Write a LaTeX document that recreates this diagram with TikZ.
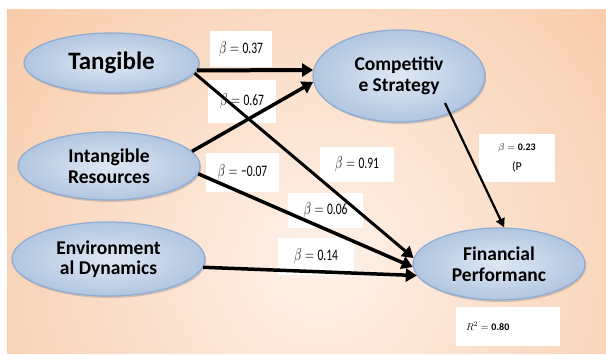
\documentclass[tikz,border=0pt]{standalone}
\usepackage{fontspec}
\setmainfont{Carlito}
\usepackage{graphicx}
\usetikzlibrary{arrows.meta,shadows,shapes.geometric}
\definecolor{bglight}{HTML}{FEF2EA}
\definecolor{bgdark}{HTML}{F3AE78}
\definecolor{ovalin}{HTML}{DEE8F4}
\definecolor{ovalout}{HTML}{B2C6E0}
\definecolor{ovalline}{HTML}{8EABD4}
\newcommand{\coef}[1]{\scalebox{0.72}[1]{$\beta = \mbox{#1}$}}

\begin{document}
\begin{tikzpicture}[x=1pt,y=-1pt,
    oval/.style={ellipse,draw=ovalline,line width=1.2pt,inner color=ovalin,outer color=ovalout,
        inner sep=0pt,align=center,font=\fontsize{19.5}{20.5}\selectfont\bfseries,
        drop shadow={shadow xshift=1.2pt,shadow yshift=-2pt,opacity=.35}},
    coefbox/.style={fill=white,inner sep=0pt,align=center,font=\fontsize{16}{18}\selectfont},
    link/.style={line width=3.5pt,-{Triangle[length=11pt,width=13pt]}}]
    \useasboundingbox (0,0) rectangle (606,355);

    %draw the background
    \begin{scope}
        \clip (7,10) rectangle (606,354);
        \shade[inner color=bglight,outer color=bgdark] (320,260) circle (700pt);
    \end{scope}

    %draw the constructs
    \node[oval,minimum width=175pt,minimum height=60pt,font=\fontsize{25}{27}\selectfont\bfseries]
        (tang) at (111.5,63) {Tangible};
    \node[oval,minimum width=182pt,minimum height=68pt] (intang) at (109,166) {Intangible\\Resources};
    \node[oval,minimum width=193pt,minimum height=74pt] (env) at (108.5,259) {Environment\\al Dynamics};
    \node[oval,minimum width=172pt,minimum height=92pt] (comp) at (399,76) {Competitiv\\e Strategy};
    \node[oval,minimum width=172pt,minimum height=72pt] (fin) at (499,264) {Financial\\Performanc};

    %draw the path coefficients
    \node[coefbox,minimum width=62pt,minimum height=36pt] (b37) at (241,49) {\coef{0.37}};
    \node[coefbox,minimum width=68pt,minimum height=43pt] (b67) at (242,101.5) {\coef{0.67}};
    \node[coefbox,minimum width=73pt,minimum height=39pt] (b07) at (242.5,172.5) {\coef{−0.07}};
    \node[coefbox,minimum width=74pt,minimum height=35pt] (b91) at (357,164.5) {\coef{0.91}};
    \node[coefbox,minimum width=75pt,minimum height=35pt] (b06) at (325.5,210.5) {\coef{0.06}};
    \node[coefbox,minimum width=76pt,minimum height=37pt] (b14) at (316,256.5) {\coef{0.14}};
    \node[coefbox,minimum width=76pt,minimum height=48pt,font=\fontsize{10}{20}\selectfont]
        (b23) at (517,158) {$\beta = \mbox{\bfseries 0.23}$\\{\fontsize{12}{12}\selectfont(P}};
    \node[coefbox,minimum height=39pt,inner xsep=10pt,text width=84pt,align=left,font=\fontsize{10}{11}\selectfont]
        (br2) at (508,326.5) {$R^2 = \mbox{\bfseries 0.80}$};

    %draw the paths
    \draw[link,line width=4pt] (tang.-5) -- (comp.176);
    \draw[link,line width=3pt] (tang.-7) -- (fin.176);
    \draw[link] (intang.10) -- (comp.184);
    \draw[link] (intang.-5) -- (fin.182);
    \draw[link] (env.-5) -- (fin.188);
    \draw[link,line width=2.2pt,-{Triangle[length=9pt,width=9pt]}] ([shift={(46,27)}]comp.center) -- (fin.82);
\end{tikzpicture}
\end{document}
